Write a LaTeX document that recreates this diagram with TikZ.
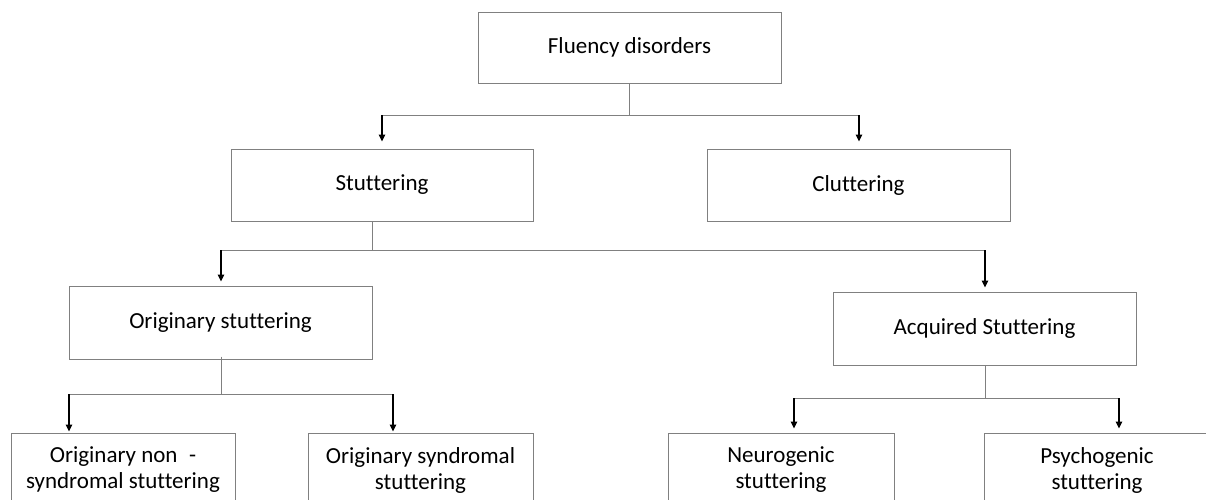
\documentclass[tikz,border=0pt]{standalone}
\usepackage{fontspec}
\setmainfont[Ligatures=NoCommon]{Carlito}
\usetikzlibrary{arrows.meta}
\definecolor{boxgray}{HTML}{808080}
\tikzset{
  box/.style={draw=boxgray, line width=1pt, rectangle, align=center, inner sep=0pt,
    font=\fontsize{23}{26}\selectfont, text=black},
  stem/.style={draw=boxgray, line width=1pt},
  arr/.style={draw=black, line width=1.2pt, -{Triangle[length=7pt,width=6.5pt]}, shorten >=7pt},
}
\begin{document}
\begin{tikzpicture}[x=1pt,y=-1pt]
\useasboundingbox (0,0) rectangle (1206,499);
\clip (0,0) rectangle (1206,499);
\fill[white] (0,0) rectangle (1206,499);
% boxes
\node[box, minimum width=303pt, minimum height=71pt] (fd) at (629.5,47.5) {Fluency disorders};
\node[box, minimum width=302pt, minimum height=72pt] (st) at (382,185) {Stuttering};
\node[box, minimum width=303pt, minimum height=72pt] (cl) at (858.5,185) {Cluttering};
\node[box, minimum width=303pt, minimum height=73pt] (os) at (220.5,322.5) {Originary stuttering};
\node[box, minimum width=303pt, minimum height=73pt] (as) at (984.5,328.5) {Acquired Stuttering};
\node[box, minimum width=224pt, minimum height=74pt] (b1) at (123,470) {Originary non\enspace-\\syndromal stuttering};
\node[box, minimum width=225pt, minimum height=74pt] (b2) at (420.5,470) {Originary syndromal\\stuttering};
\node[box, minimum width=226pt, minimum height=74pt] (b3) at (781,470) {Neurogenic\\stuttering};
\node[box, minimum width=226pt, minimum height=74pt] (b4) at (1097,470) {Psychogenic\\stuttering};
% junction coordinates
\coordinate (j1) at (629,115);
\coordinate (j1l) at (382,115);
\coordinate (j1r) at (859,115);
\coordinate (j2) at (372,250);
\coordinate (j2l) at (221,250);
\coordinate (j2r) at (985,250);
\coordinate (j3) at (221,394);
\coordinate (j3l) at (69,394);
\coordinate (j3r) at (393,394);
\coordinate (j4) at (985,398);
\coordinate (j4l) at (794,398);
\coordinate (j4r) at (1119,398);
% level 1
\draw[stem] (fd.south -| j1) -- (j1);
\draw[stem] (j1l) -- (j1r);
\draw[arr] (j1l) -- (j1l |- st.north);
\draw[arr] (j1r) -- (j1r |- cl.north);
% level 2
\draw[stem] (st.south -| j2) -- (j2);
\draw[stem] (j2l) -- (j2r);
\draw[arr] (j2l) -- ([yshift=-3pt]j2l |- os.north);
\draw[arr] (j2r) -- ([yshift=-3pt]j2r |- as.north);
% level 3 left
\draw[stem] ([yshift=3pt]os.south -| j3) -- (j3);
\draw[stem] (j3l) -- (j3r);
\draw[arr] (j3l) -- ([yshift=-6pt]j3l |- b1.north);
\draw[arr] (j3r) -- ([yshift=-6pt]j3r |- b2.north);
% level 3 right
\draw[stem] (as.south -| j4) -- (j4);
\draw[stem] (j4l) -- (j4r);
\draw[arr] (j4l) -- ([yshift=-3pt]j4l |- b3.north);
\draw[arr] (j4r) -- ([yshift=-3pt]j4r |- b4.north);
\end{tikzpicture}
\end{document}
